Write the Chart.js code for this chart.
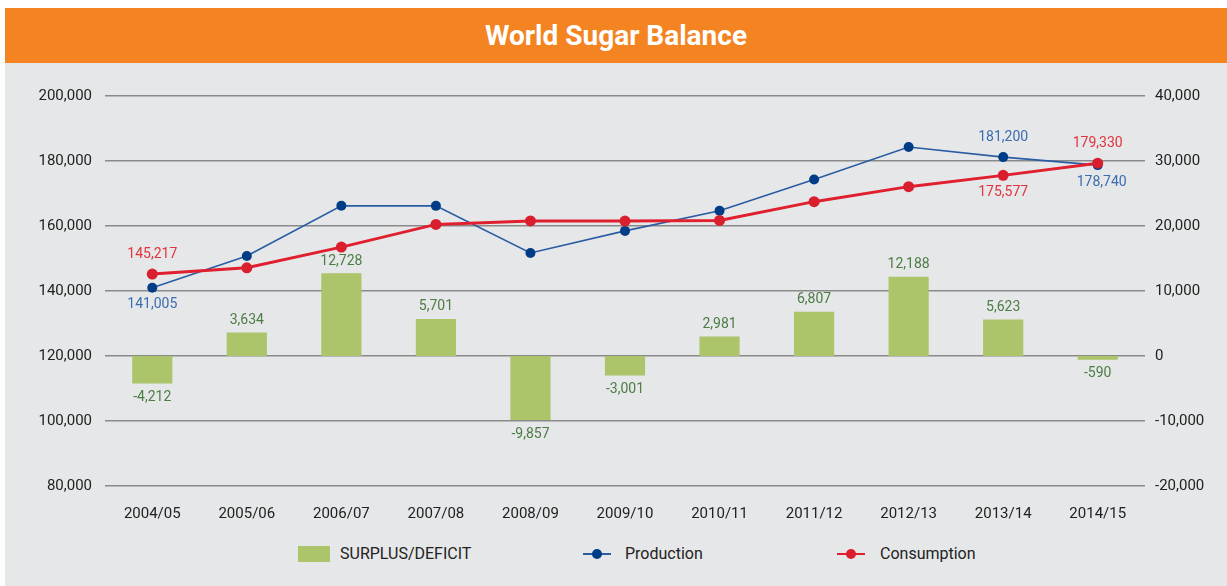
<!DOCTYPE html>
<html>
<head>
<meta charset="utf-8">
<script src="https://cdn.jsdelivr.net/npm/chart.js@4/dist/chart.umd.min.js"></script>
<style>
  html, body { margin: 0; padding: 0; background: #fff; }
  body { width: 1227px; height: 586px; position: relative; overflow: hidden; font-family: Roboto, "DejaVu Sans", sans-serif; }
  .head { position: absolute; left: 5px; top: 8px; width: 1222px; height: 55px; background: #f48421;
          color: #fff; font-weight: bold; font-size: 28px; text-align: center; line-height: 55px; }
  .panel { position: absolute; left: 5px; top: 63px; width: 1222px; height: 523px; background: #e6e7e8; }
  #chart { position: absolute; left: 0; top: 63px; }
  .legend { position: absolute; top: 544px; left: 0; width: 1227px; height: 20px; font-size: 16px; color: #222; }
  .legend span { position: absolute; line-height: 20px; }
  .box { position: absolute; top: 2px; width: 32px; height: 16px; background: #acc46a; }
  .ln { position: absolute; top: 9px; width: 28px; height: 2px; }
  .dot { position: absolute; top: 5px; width: 10px; height: 10px; border-radius: 50%; }
</style>
</head>
<body>
<div class="head">World Sugar Balance</div>
<div class="panel"></div>
<canvas id="chart" width="1227" height="470"></canvas>
<div class="legend">
  <div class="box" style="left:298px"></div><span style="left:340px">SURPLUS/DEFICIT</span>
  <div class="ln" style="left:583px;background:#2a5ca3"></div><div class="dot" style="left:592px;background:#003d86"></div><span style="left:625px">Production</span>
  <div class="ln" style="left:837px;background:#e0202f"></div><div class="dot" style="left:846px;background:#d91f2e"></div><span style="left:880px">Consumption</span>
</div>
<script>
const seasons = ["2004/05", "2005/06", "2006/07", "2007/08", "2008/09", "2009/10", "2010/11", "2011/12", "2012/13", "2013/14", "2014/15"];
const surplus = [-4212, 3634, 12728, 5701, -9857, -3001, 2981, 6807, 12188, 5623, -590];
const production = [141005, 150780, 166230, 166200, 151700, 158500, 164700, 174300, 184300, 181200, 178740];
const consumption = [145217, 147146, 153502, 160499, 161557, 161501, 161719, 167493, 172112, 175577, 179330];
const leftTicks = [80000, 200000, 20000];
const rightTicks = [-20000, 40000, 10000];

const fmt = v => Number(v).toLocaleString("en-US");

// draws value labels next to bars / chosen points
const valueLabels = {
  id: "valueLabels",
  afterDatasetsDraw(chart) {
    const ctx = chart.ctx;
    ctx.save();
    ctx.font = "14px Roboto, sans-serif";
    ctx.textAlign = "center";
    ctx.textBaseline = "middle";
    chart.data.datasets.forEach((ds, di) => {
      const meta = chart.getDatasetMeta(di);
      const lbl = ds.labels;
      if (!lbl) return;
      ctx.fillStyle = lbl.color;
      meta.data.forEach((el, i) => {
        const v = ds.data[i];
        if (ds.type === "bar") {
          const top = Math.min(el.y, el.base), bottom = Math.max(el.y, el.base);
          const y = v >= 0 ? top - 12 : bottom + 14;
          ctx.fillText(fmt(v), el.x, y);
        } else if (lbl.at[i]) {
          const y = lbl.at[i] === "up" ? el.y - 20 : el.y + 17;
          ctx.fillText(fmt(v), el.x + (lbl.dx && lbl.dx[i] || 0), y);
        }
      });
    });
    ctx.restore();
  }
};

new Chart(document.getElementById("chart"), {
  data: {
    labels: seasons,
    datasets: [
      {
        type: "line",
        label: "Consumption",
        data: consumption,
        yAxisID: "y",
        borderColor: "#e0202f",
        backgroundColor: "#d91f2e",
        borderWidth: 3,
        pointRadius: 5.5,
        pointBorderWidth: 0,
        tension: 0,
        order: 1,
        labels: { color: "#e2333f", at: { 0: "up", 9: "down", 10: "up" } }
      },
      {
        type: "line",
        label: "Production",
        data: production,
        yAxisID: "y",
        borderColor: "#2a5ca3",
        backgroundColor: "#003d86",
        borderWidth: 1.6,
        pointRadius: 5,
        pointBorderWidth: 0,
        tension: 0,
        order: 2,
        labels: { color: "#3b6db0", at: { 0: "down", 9: "up", 10: "down" }, dx: { 10: 4 } }
      },
      {
        type: "bar",
        label: "SURPLUS/DEFICIT",
        data: surplus,
        yAxisID: "y1",
        backgroundColor: "#acc46a",
        categoryPercentage: 1,
        barPercentage: 0.425,
        order: 3,
        labels: { color: "#4d7c45" }
      }
    ]
  },
  options: {
    responsive: false,
    devicePixelRatio: 1,
    animation: false,
    layout: { padding: { top: 33, left: 0, right: 0, bottom: 0 } },
    plugins: { legend: { display: false }, tooltip: { enabled: false } },
    scales: {
      x: {
        grid: { display: false },
        border: { display: false },
        ticks: { color: "#222", font: { size: 15, family: "Roboto" }, padding: 11, maxRotation: 0 },
        afterFit: s => { s.height = 47; }
      },
      y: {
        position: "left",
        min: leftTicks[0], max: leftTicks[1],
        ticks: { stepSize: leftTicks[2], color: "#222", font: { size: 15, family: "Roboto" }, padding: 13, callback: fmt },
        grid: { color: "#8a8a8a", lineWidth: 1.5, drawTicks: false },
        border: { display: false },
        afterFit: s => { s.width = 105; }
      },
      y1: {
        position: "right",
        min: rightTicks[0], max: rightTicks[1],
        ticks: { stepSize: rightTicks[2], color: "#222", font: { size: 15, family: "Roboto" }, padding: 10, callback: fmt },
        grid: { display: false, drawTicks: false },
        border: { display: false },
        afterFit: s => { s.width = 82; }
      }
    }
  },
  plugins: [valueLabels]
});
</script>
</body>
</html>
